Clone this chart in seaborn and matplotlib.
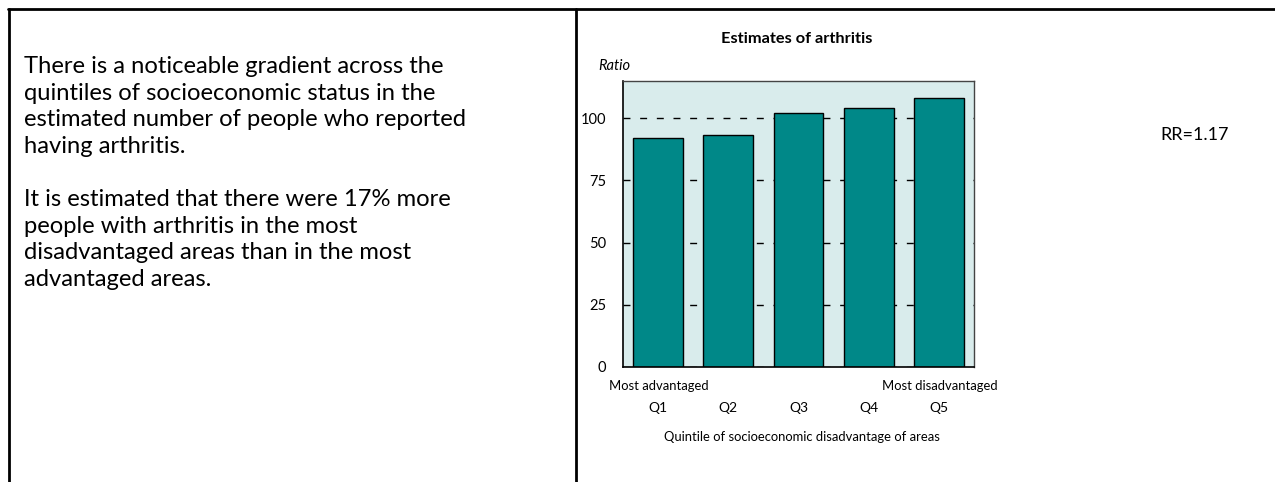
"""arthritis estimates by socioeconomic quintile, with a text panel on the left"""

import matplotlib
matplotlib.use("Agg")
import matplotlib.pyplot as plt
import pandas as pd
import seaborn as sns
from matplotlib.lines import Line2D

quintiles = ["Q1", "Q2", "Q3", "Q4", "Q5"]
ratios = [92, 93, 102, 104, 108]
y_ticks = [0, 25, 50, 75, 100]

title = "Estimates of arthritis"
y_label = "Ratio"
x_label = "Quintile of socioeconomic disadvantage of areas"
low_label = "Most advantaged"
high_label = "Most disadvantaged"
rr_label = "RR=1.17"
paragraphs = [
    "There is a noticeable gradient across the\n"
    "quintiles of socioeconomic status in the\n"
    "estimated number of people who reported\n"
    "having arthritis.",
    "It is estimated that there were 17% more\n"
    "people with arthritis in the most\n"
    "disadvantaged areas than in the most\n"
    "advantaged areas.",
]

BAR_COLOUR = "#008888"
PANEL_COLOUR = "#d9ecec"
W, H = 1275, 482

sns.set_theme(style="white")
plt.rcParams["font.family"] = ["Lato", "DejaVu Sans"]
plt.rcParams["text.color"] = "black"
plt.rcParams["xtick.color"] = "black"
plt.rcParams["ytick.color"] = "black"

df = pd.DataFrame({"quintile": quintiles, "ratio": ratios})

fig = plt.figure(figsize=(W / 100, H / 100), dpi=100)
ax = fig.add_axes([623 / W, 1 - 367 / H, 351 / W, (367 - 80.7) / H])


def px(x, y):
    return x / W, 1 - y / H


# frame around the two panels
for xs, ys in [((8, 1275), (9, 9)), ((9, 9), (9, 482)), ((576, 576), (9, 482))]:
    fig.add_artist(Line2D([xs[0] / W, xs[1] / W], [1 - ys[0] / H, 1 - ys[1] / H],
                          color="black", lw=2, transform=fig.transFigure))

# left text panel
fig.text(*px(24, 56), paragraphs[0], fontsize=17.1, va="top", ha="left", linespacing=1.33)
fig.text(*px(24, 189), paragraphs[1], fontsize=17.1, va="top", ha="left", linespacing=1.33)

ax.set_facecolor(PANEL_COLOUR)
ax.set_axisbelow(True)
ax.yaxis.grid(True, color="black", linestyle=(0, (5, 7)), linewidth=1)
sns.barplot(data=df, x="quintile", y="ratio", color=BAR_COLOUR, width=0.71,
            edgecolor="black", linewidth=1, saturation=1, ax=ax)
ax.set_xlim(-0.5, 4.5)
ax.set_ylim(0, 115)
ax.set_yticks(y_ticks)
ax.set_xlabel("")
ax.set_ylabel("")
ax.tick_params(axis="y", left=False, labelsize=10.5, pad=6)
ax.tick_params(axis="x", bottom=False, labelsize=10, pad=19)
for side in ["left", "bottom"]:
    ax.spines[side].set_color("black")
    ax.spines[side].set_linewidth(1.2)
for side in ["top", "right"]:
    ax.spines[side].set_color("#444444")
    ax.spines[side].set_linewidth(1)

fig.text(*px(797, 39), title, fontsize=11.8, fontweight="bold", ha="center", va="center")
fig.text(*px(598, 66), y_label, fontsize=10.5, style="italic", ha="left", va="center")
fig.text(*px(1195, 135), rr_label, fontsize=13, ha="center", va="center")
fig.text(*px(659, 386), low_label, fontsize=9.4, ha="center", va="center")
fig.text(*px(940, 386), high_label, fontsize=9.4, ha="center", va="center")
fig.text(*px(802, 437), x_label, fontsize=9.4, ha="center", va="center")

fig.savefig("out.png", dpi=100)
